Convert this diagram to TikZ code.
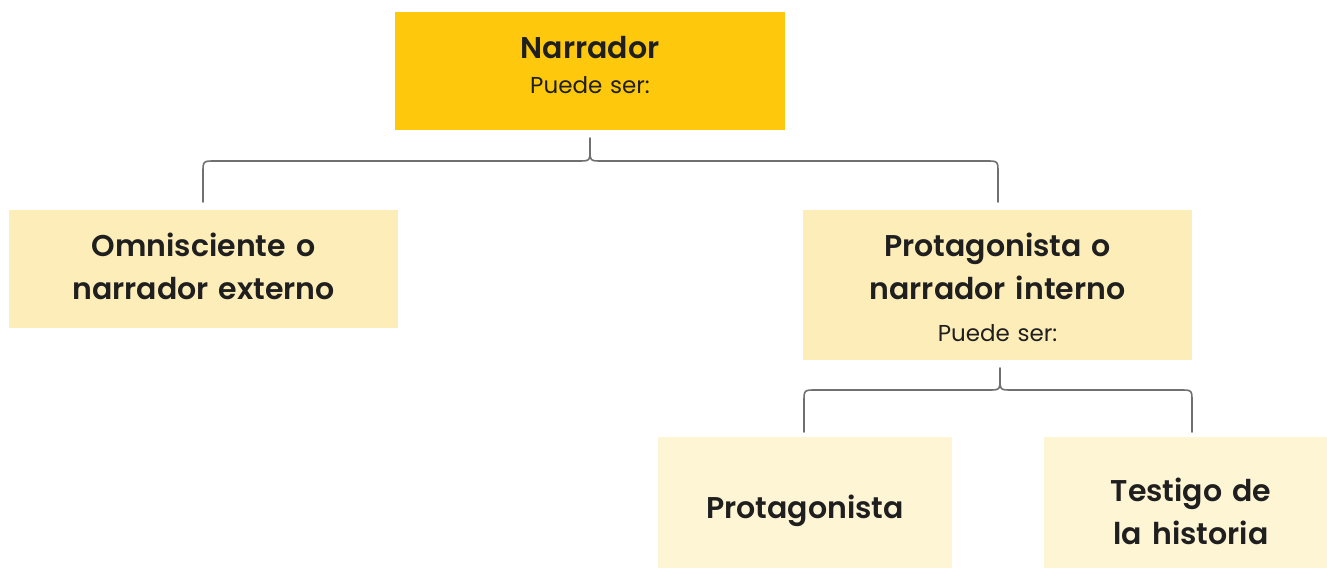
\documentclass[tikz,border=0pt]{standalone}
\usepackage{fontspec}
\setmainfont{Poppins}[BoldFont={Poppins SemiBold}]
\begin{document}
\begin{tikzpicture}[x=1pt,y=-1pt,
  box/.style={draw=none,text width=#1,inner sep=0pt,align=center,text=black!88},
  big/.style={font=\fontsize{30}{43}\selectfont\bfseries},
  small/.style={font=\fontsize{23}{28}\selectfont},
  bracel/.style={draw=brc,line width=1.6pt,line cap=round}]
\definecolor{top}{HTML}{FEC80D}
\definecolor{mid}{HTML}{FDEDB8}
\definecolor{low}{HTML}{FEF5D5}
\definecolor{brc}{HTML}{707070}
\useasboundingbox (0,0) rectangle (1327,569);
% boxes
\fill[top] (395,12) rectangle (785,130);
\node[box=390,big] (nar) at (590,48) {Narrador};
\node[box=390,small] (nars) at (590,85) {Puede ser:};
\fill[mid] (9,210) rectangle (398,328);
\node[box=389,big] (omn) at (203.5,266) {Omnisciente o\\narrador externo};
\fill[mid] (803,210) rectangle (1192,360);
\node[box=389,big] (pro) at (997.5,266) {Protagonista o\\narrador interno};
\node[box=389,small] (pros) at (997.5,333) {Puede ser:};
\fill[low] (658,437) rectangle (952,568);
\node[box=294,big] (p2) at (805,511) {Protagonista};
\fill[low] (1044,437) rectangle (1327,568);
\node[box=283,big] (tes) at (1191,511) {Testigo de\\la historia};
% brace 1
\coordinate (b1s) at (590,138);
\coordinate (b1l) at (203,202);
\coordinate (b1r) at (998,202);
\draw[bracel] (b1s) -- (590,149) .. controls (590,161) .. (578,161) -- (215,161) .. controls (203,161) .. (203,173) -- (b1l);
\draw[bracel] (590,149) .. controls (590,161) .. (602,161) -- (986,161) .. controls (998,161) .. (998,173) -- (b1r);
% brace 2
\coordinate (b2s) at (1000,368);
\coordinate (b2l) at (804,432);
\coordinate (b2r) at (1192,432);
\draw[bracel] (b2s) -- (1000,378) .. controls (1000,390) .. (988,390) -- (816,390) .. controls (804,390) .. (804,402) -- (b2l);
\draw[bracel] (1000,378) .. controls (1000,390) .. (1012,390) -- (1180,390) .. controls (1192,390) .. (1192,402) -- (b2r);
\end{tikzpicture}
\end{document}
